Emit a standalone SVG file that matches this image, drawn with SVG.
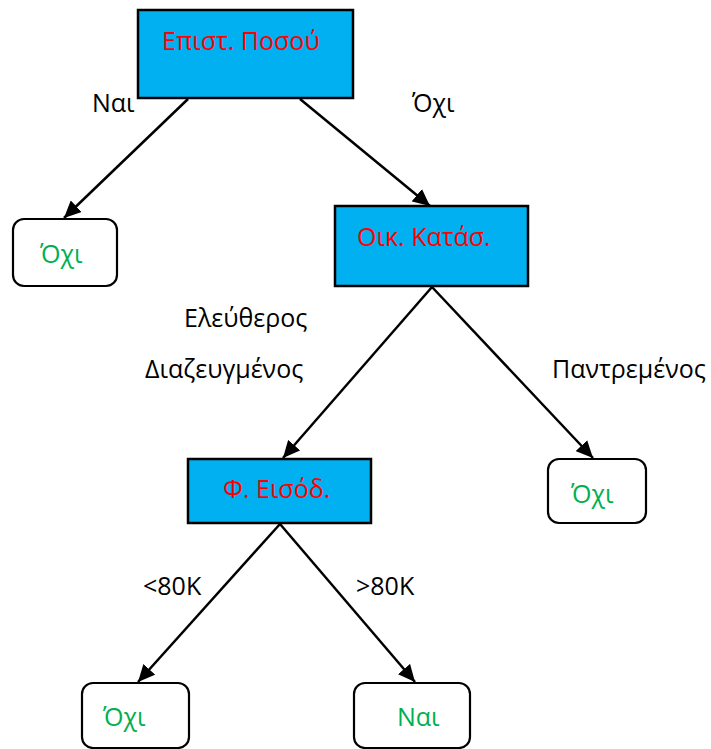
<svg xmlns="http://www.w3.org/2000/svg" width="711" height="749" viewBox="0 0 711 749">
  <style>
    .dec { fill: #00B0F0; stroke: #000; stroke-width: 2.5; }
    .leaf { fill: #fff; stroke: #000; stroke-width: 2.2; }
    .dtxt { font-family: "Open Sans", "Noto Sans", sans-serif; font-size: 25px; fill: #FF0000; }
    .ltxt { font-family: "Open Sans", "Noto Sans", sans-serif; font-size: 25px; fill: #00B050; }
    .lbl { font-family: "Open Sans", "Noto Sans", sans-serif; font-size: 25px; fill: #000; }
    .edge { stroke: #000; stroke-width: 2.5; fill: none; marker-end: url(#arrow); }
  </style>
  <defs>
    <marker id="arrow" markerUnits="userSpaceOnUse" markerWidth="18" markerHeight="16" refX="17" refY="8" orient="auto">
      <path d="M0,0 L17,8 L0,16 Z" fill="#000"/>
    </marker>
  </defs>
  <rect width="711" height="749" fill="#fff"/>

  <!-- connectors -->
  <g id="connectors">
    <line class="edge" x1="188" y1="99" x2="64" y2="218"/>
    <line class="edge" x1="300" y1="99" x2="430" y2="206"/>
    <line class="edge" x1="432" y1="287" x2="283" y2="458"/>
    <line class="edge" x1="432" y1="287" x2="593" y2="458"/>
    <line class="edge" x1="280" y1="524" x2="138" y2="682"/>
    <line class="edge" x1="280" y1="524" x2="415" y2="682"/>
  </g>

  <!-- edge labels -->
  <g id="labels">
    <text class="lbl" x="92" y="112">Ναι</text>
    <text class="lbl" x="412" y="112">Όχι</text>
    <text class="lbl" x="184" y="327">Ελεύθερος</text>
    <text class="lbl" x="145" y="378">Διαζευγμένος</text>
    <text class="lbl" x="552" y="378">Παντρεμένος</text>
    <text class="lbl" x="143" y="595">&lt;80K</text>
    <text class="lbl" x="356" y="595">&gt;80K</text>
  </g>

  <g id="node-amount">
    <rect class="dec" x="138" y="10" width="215" height="88"/>
    <text class="dtxt" x="162" y="50">Επιστ. Ποσού</text>
  </g>

  <g id="leaf-no-1">
    <rect class="leaf" x="13" y="219" width="104" height="67" rx="11"/>
    <text class="ltxt" x="40" y="263">Όχι</text>
  </g>

  <g id="node-status">
    <rect class="dec" x="335" y="206" width="193" height="80"/>
    <text class="dtxt" x="357" y="246">Οικ. Κατάσ.</text>
  </g>

  <g id="node-income">
    <rect class="dec" x="188" y="459" width="183" height="64"/>
    <text class="dtxt" x="223" y="498">Φ. Εισόδ.</text>
  </g>

  <g id="leaf-no-2">
    <rect class="leaf" x="548" y="459" width="98" height="64" rx="11"/>
    <text class="ltxt" x="571" y="503">Όχι</text>
  </g>

  <g id="leaf-no-3">
    <rect class="leaf" x="82" y="683" width="107" height="65" rx="11"/>
    <text class="ltxt" x="103" y="726">Όχι</text>
  </g>

  <g id="leaf-yes">
    <rect class="leaf" x="354" y="683" width="116" height="65" rx="11"/>
    <text class="ltxt" x="397" y="726">Ναι</text>
  </g>
</svg>
